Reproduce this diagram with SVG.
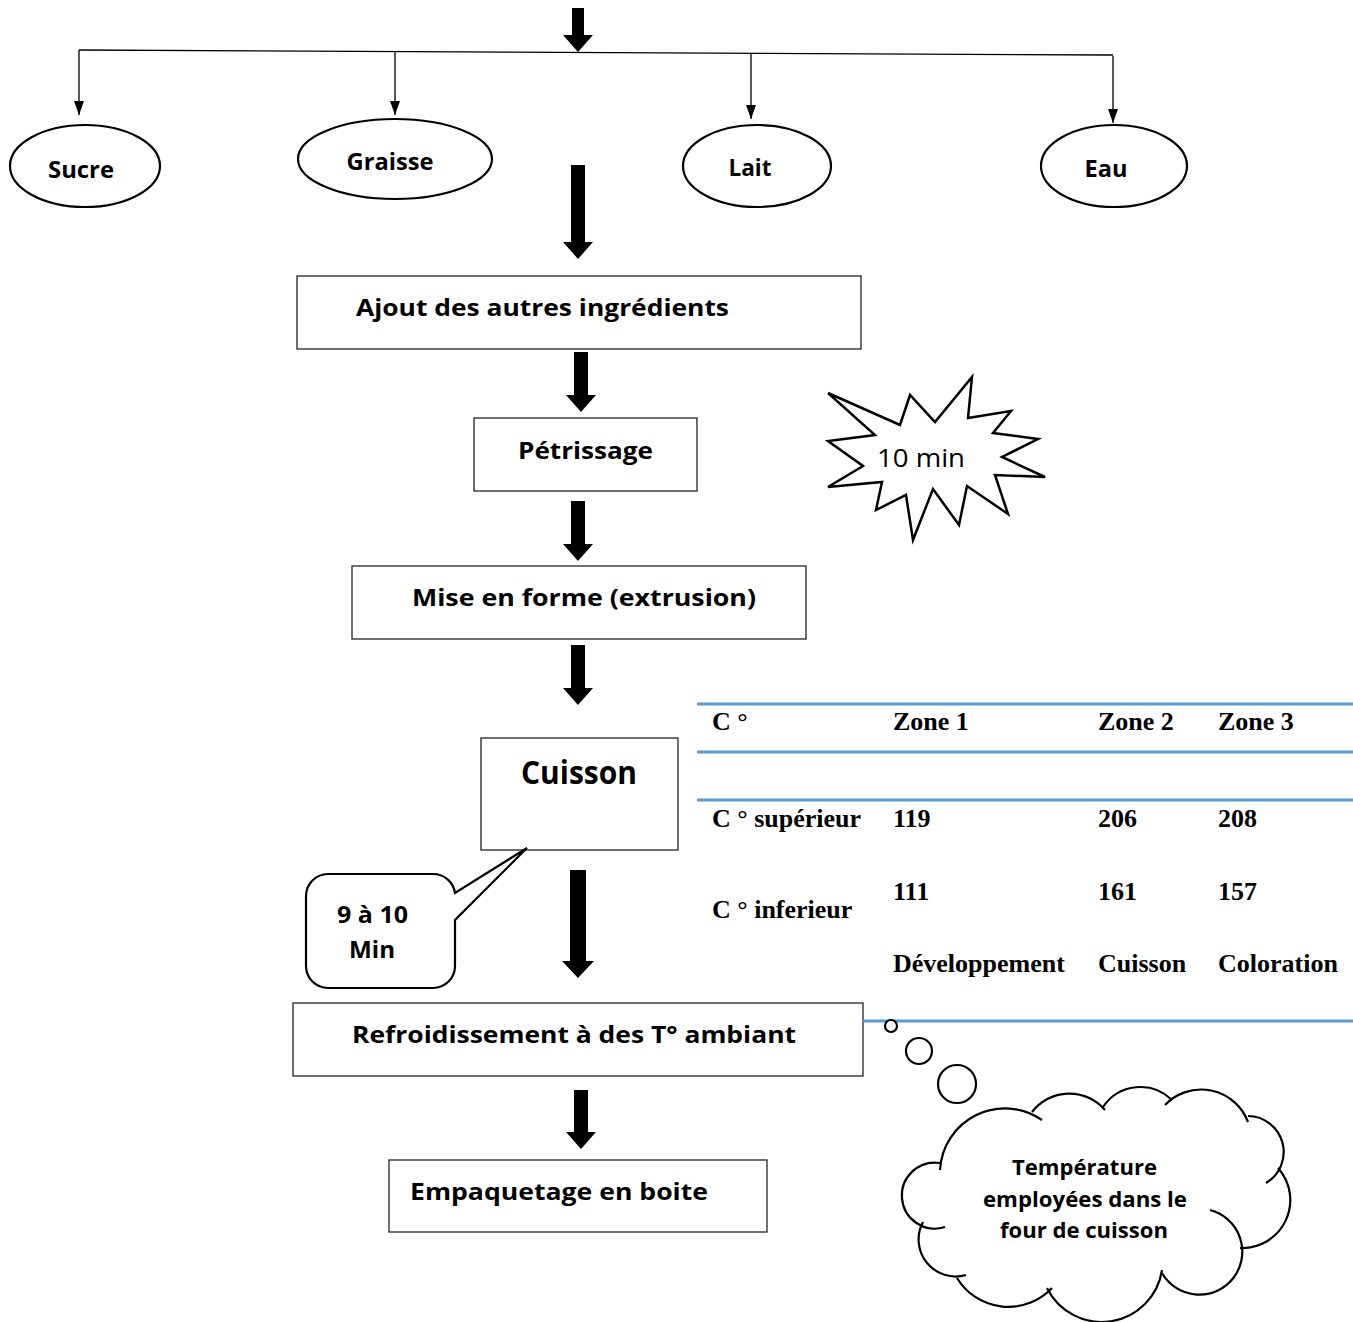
<svg xmlns="http://www.w3.org/2000/svg" width="1353" height="1322" viewBox="0 0 1353 1322">
<defs>
<marker id="ah" markerUnits="userSpaceOnUse" markerWidth="14" markerHeight="10" refX="14" refY="5" orient="auto">
<path d="M0,0 L14,5 L0,10 z" fill="#000"/>
</marker>
<style>
.box{fill:#fff;stroke:#222;stroke-width:1.3}
.ell{fill:#fff;stroke:#000;stroke-width:2.2}
.t{font-family:"Open Sans","Noto Sans",sans-serif;font-weight:bold;fill:#000;text-anchor:middle}
.tb{font-size:24px}
.tab{font-family:"Liberation Serif","Times New Roman",serif;font-weight:bold;font-size:26px;fill:#000}
.bl{stroke:#5B9BD5;stroke-width:3}
.thin{stroke:#000;stroke-width:1.3;fill:none}
.big{fill:#000}
.sh{fill:none;stroke:#000;stroke-width:2.5;stroke-linejoin:miter}
</style>
</defs>
<rect width="1353" height="1322" fill="#fff"/>

<g id="connectors">
<polygon class="big" points="572,8 584,8 584,35 593,35 578,52 563,35 572,35"/>
<line class="thin" x1="79" y1="50" x2="1113" y2="55"/>
<line class="thin" x1="79" y1="50" x2="79" y2="115" marker-end="url(#ah)"/>
<line class="thin" x1="395" y1="51" x2="395" y2="115" marker-end="url(#ah)"/>
<line class="thin" x1="751" y1="54" x2="751" y2="119" marker-end="url(#ah)"/>
<line class="thin" x1="1113" y1="56" x2="1113" y2="123" marker-end="url(#ah)"/>
<polygon class="big" points="571,165 585,165 585,242 593,242 578,259 563,242 571,242"/>
<polygon class="big" points="574,352 588,352 588,395 596,395 581,412 566,395 574,395"/>
<polygon class="big" points="571,501 585,501 585,544 593,544 578,561 563,544 571,544"/>
<polygon class="big" points="571,645 585,645 585,688 593,688 578,705 563,688 571,688"/>
<polygon class="big" points="570,870 586,870 586,961 594,961 578,978 562,961 570,961"/>
<polygon class="big" points="574,1090 588,1090 588,1132 596,1132 581,1149 566,1132 574,1132"/>
</g>

<g id="sucre">
<ellipse class="ell" cx="85" cy="166" rx="75" ry="41"/>
<text class="t tb" x="81" y="178" textLength="66" lengthAdjust="spacingAndGlyphs">Sucre</text>
</g>
<g id="graisse">
<ellipse class="ell" cx="395" cy="159" rx="97" ry="40"/>
<text class="t tb" x="390" y="170" textLength="87" lengthAdjust="spacingAndGlyphs">Graisse</text>
</g>
<g id="lait">
<ellipse class="ell" cx="757" cy="166" rx="74" ry="41"/>
<text class="t tb" x="750" y="176" textLength="43" lengthAdjust="spacingAndGlyphs">Lait</text>
</g>
<g id="eau">
<ellipse class="ell" cx="1114" cy="166" rx="73" ry="41"/>
<text class="t tb" x="1106" y="177" textLength="43" lengthAdjust="spacingAndGlyphs">Eau</text>
</g>

<g id="ajout">
<rect class="box" x="297" y="276" width="564" height="73"/>
<text class="t tb" x="542.5" y="316" textLength="373" lengthAdjust="spacingAndGlyphs">Ajout des autres ingrédients</text>
</g>
<g id="petrissage">
<rect class="box" x="474" y="418" width="223" height="73"/>
<text class="t tb" x="585.5" y="459" textLength="135" lengthAdjust="spacingAndGlyphs">Pétrissage</text>
</g>
<g id="starburst">
<polygon class="sh" points="828,393 900,425 910,395 935,422 972,377 968,418 1011,411 993,433 1038,439 1002,457 1045,477 995,475 1008,514 967,486 959,525 933,489 913,540 906,495 876,510 882,482 828,487 863,466 828,441 875,435"/>
<text x="921" y="467" font-family="'Open Sans','Noto Sans',sans-serif" font-size="26" text-anchor="middle" textLength="88" lengthAdjust="spacingAndGlyphs">10 min</text>
</g>
<g id="mise-en-forme">
<rect class="box" x="352" y="566" width="454" height="73"/>
<text class="t tb" x="584" y="606" textLength="344" lengthAdjust="spacingAndGlyphs">Mise en forme (extrusion)</text>
</g>
<g id="cuisson">
<rect class="box" x="481" y="738" width="197" height="112"/>
<text class="t" font-size="32" x="579" y="784" textLength="116" lengthAdjust="spacingAndGlyphs">Cuisson</text>
</g>
<g id="callout">
<path d="M328,874 H433 A22,22 0 0 1 455,893 L527,848 L455,920 V966 A22,22 0 0 1 433,988 H328 A22,22 0 0 1 306,966 V896 A22,22 0 0 1 328,874 Z" fill="#fff" stroke="#000" stroke-width="2.2"/>
<text class="t tb" x="372.5" y="923" textLength="71" lengthAdjust="spacingAndGlyphs">9 à 10</text>
<text class="t tb" x="372" y="958" textLength="46" lengthAdjust="spacingAndGlyphs">Min</text>
</g>
<g id="refroidissement">
<rect class="box" x="293" y="1003" width="570" height="73"/>
<text class="t tb" x="574" y="1043" textLength="444" lengthAdjust="spacingAndGlyphs">Refroidissement à des T° ambiant</text>
</g>
<g id="empaquetage">
<rect class="box" x="389" y="1160" width="378" height="72"/>
<text class="t tb" x="559" y="1200" textLength="298" lengthAdjust="spacingAndGlyphs">Empaquetage en boite</text>
</g>

<g id="table">
<line class="bl" x1="697" y1="704" x2="1353" y2="704"/>
<line class="bl" x1="697" y1="752" x2="1353" y2="752"/>
<line class="bl" x1="697" y1="800" x2="1353" y2="800"/>
<line class="bl" x1="863" y1="1021" x2="1353" y2="1021"/>
<text class="tab" x="712" y="730">C °</text>
<text class="tab" x="893" y="730">Zone 1</text>
<text class="tab" x="1098" y="730">Zone 2</text>
<text class="tab" x="1218" y="730">Zone 3</text>
<text class="tab" x="712" y="827">C ° supérieur</text>
<text class="tab" x="893" y="827">119</text>
<text class="tab" x="1098" y="827">206</text>
<text class="tab" x="1218" y="827">208</text>
<text class="tab" x="893" y="900">111</text>
<text class="tab" x="1098" y="900">161</text>
<text class="tab" x="1218" y="900">157</text>
<text class="tab" x="712" y="918">C ° inferieur</text>
<text class="tab" x="893" y="972">Développement</text>
<text class="tab" x="1098" y="972">Cuisson</text>
<text class="tab" x="1218" y="972">Coloration</text>
</g>

<g id="cloud">
<circle cx="891" cy="1026" r="6" fill="#fff" stroke="#000" stroke-width="2.2"/>
<circle cx="919" cy="1051" r="13" fill="#fff" stroke="#000" stroke-width="2.2"/>
<circle cx="957" cy="1084" r="19" fill="#fff" stroke="#000" stroke-width="2.2"/>
<g fill="none" stroke="#000" stroke-width="2.2">
<path d="M940,1170 A65,65 0 0 1 1042,1120"/>
<path d="M1032,1112 A47,47 0 0 1 1105,1110"/>
<path d="M1103,1107 A45,45 0 0 1 1172,1100"/>
<path d="M1165,1105 A50,50 0 0 1 1248,1122"/>
<path d="M1248,1116 A36,36 0 0 1 1266,1183"/>
<path d="M1278,1168 A48,48 0 0 1 1240,1248"/>
<path d="M1210,1210 A43,43 0 1 1 1162,1273"/>
<path d="M1162,1270 A61,61 0 0 1 1047,1288"/>
<path d="M1052,1288 A60,60 0 0 1 957,1278"/>
<path d="M966,1275 A37,37 0 0 1 923,1222"/>
<path d="M945,1227 A33,33 0 1 1 940,1163"/>
</g>
<text class="t" font-size="22" x="1084.5" y="1175" textLength="145" lengthAdjust="spacingAndGlyphs">Température</text>
<text class="t" font-size="22" x="1085" y="1207" textLength="204" lengthAdjust="spacingAndGlyphs">employées dans le</text>
<text class="t" font-size="22" x="1084" y="1238" textLength="168" lengthAdjust="spacingAndGlyphs">four de cuisson</text>
</g>
</svg>
